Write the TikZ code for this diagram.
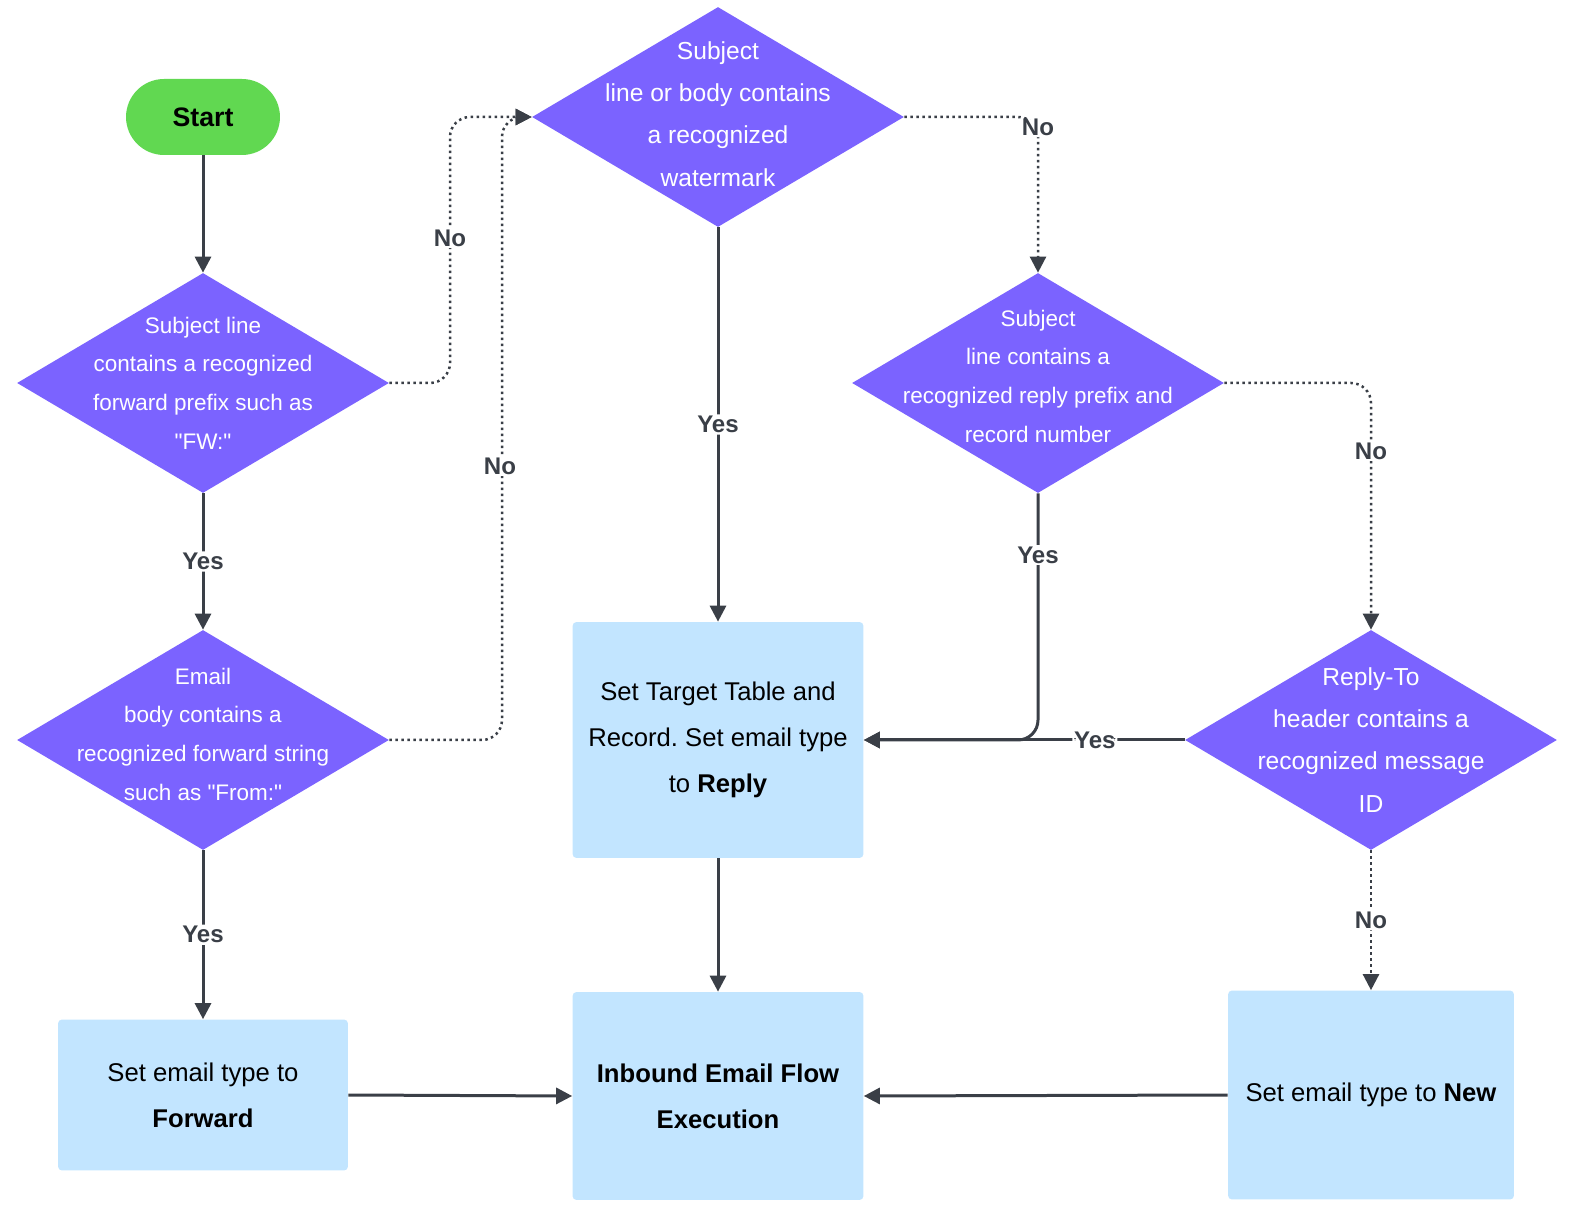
\documentclass[tikz,border=0pt]{standalone}
\usepackage{fontspec}
\setmainfont{Liberation Sans}
\frenchspacing
\usetikzlibrary{arrows.meta,shapes.geometric,positioning}
\definecolor{FlowPurple}{HTML}{7B63FF}
\definecolor{FlowBlue}{HTML}{C2E5FF}
\definecolor{FlowGreen}{HTML}{61D851}
\definecolor{FlowInk}{HTML}{3A3F47}

\begin{document}
\begin{tikzpicture}[
    x=0.02cm, y=-0.02cm,
    decision/.style={
      diamond,
      fill=FlowPurple,
      minimum width=7.44cm,
      minimum height=4.4cm,
      inner sep=0pt
    },
    dtext/.style={
      text=white,
      align=center,
      font=\fontsize{12.8}{22}\selectfont
    },
    dtextbig/.style={
      text=white,
      align=center,
      font=\fontsize{14}{24}\selectfont
    },
    process/.style={
      rectangle,
      fill=FlowBlue,
      rounded corners=0.08cm,
      align=center,
      font=\fontsize{14.6}{26}\selectfont
    },
    terminal/.style={
      rectangle,
      fill=FlowGreen,
      rounded corners=0.76cm,
      minimum width=3.08cm,
      minimum height=1.52cm,
      font=\fontsize{15.2}{18}\selectfont\bfseries
    },
    lbl/.style={
      fill=white,
      text=FlowInk,
      inner sep=1pt,
      font=\fontsize{13.7}{16}\selectfont\bfseries
    },
    flow/.style={
      -{Triangle[length=0.32cm,width=0.32cm]},
      line width=0.06cm,
      draw=FlowInk,
      rounded corners=0.4cm
    },
    noflow/.style={
      flow,
      line width=0.05cm,
      dash pattern=on 0.05cm off 0.07cm
    }
  ]

  \useasboundingbox (0,0) rectangle (1576,1222);

  % nodes
  \node[terminal] (start) at (203,117) {Start};

  \node[decision, label={[dtext]center:{Subject line\\contains a recognized\\forward prefix such as\\\textquotedbl FW:\textquotedbl}}] (fwdprefix) at (203,383) {};
  \node[decision, label={[dtext, yshift=0.12cm]center:{Email\\body contains a\\recognized forward string\\such as \textquotedbl From:\textquotedbl}}] (fwdstring) at (203,740) {};
  \node[decision, label={[dtextbig, yshift=0.06cm]center:{Subject\\line or body contains\\a recognized\\watermark}}] (watermark) at (718,117) {};
  \node[decision, label={[dtext, yshift=0.14cm]center:{Subject\\line contains a\\recognized reply prefix and\\record number}}] (replyprefix) at (1038,383) {};
  \node[decision, label={[dtextbig]center:{Reply-To\\header contains a\\recognized message\\ID}}] (replyto) at (1371,740) {};

  \node[process, minimum width=5.82cm, minimum height=4.72cm] (reply) at (718,740)
    {Set Target Table and\\Record. Set email type\\to \textbf{Reply}};
  \node[process, minimum width=5.82cm, minimum height=4.16cm] (inbound) at (718,1096)
    {\textbf{Inbound Email Flow}\\\textbf{Execution}};
  \node[process, minimum width=5.8cm, minimum height=3.02cm] (forward) at (203,1095)
    {Set email type to\\\textbf{Forward}};
  \node[process, minimum width=5.72cm, minimum height=4.18cm] (new) at (1371,1095)
    {Set email type to \textbf{New}};

  \coordinate (bendA) at (450,117);
  \coordinate (bendB) at (502,117);

  % connectors
  \draw[flow] (start) -- (fwdprefix);
  \draw[flow] (fwdprefix) -- node[lbl] {Yes} (fwdstring);
  \draw[flow] (fwdstring) -- node[lbl] {Yes} (forward);
  \draw[noflow] (fwdprefix.east) -| (bendA) -- (watermark.west);
  \draw[noflow] (fwdstring.east) -| (bendB) -- (watermark.west);
  \node[lbl] (noA) at (450,238) {No};
  \node[lbl] (noB) at (500,466) {No};

  \draw[flow] (watermark) -- node[lbl] {Yes} (reply);
  \draw[noflow] (watermark.east) -| node[lbl, pos=0.5, yshift=-0.2cm] {No} (replyprefix.north);
  \draw[noflow] (replyprefix.east) -| (replyto.north);
  \node[lbl] (noC) at (1371,451) {No};
  \draw[flow] (replyprefix.south) |- (reply.east);
  \node[lbl] (yesC) at (1038,555) {Yes};
  \draw[flow] (replyto.west) -- node[lbl, pos=0.28] {Yes} (reply.east);
  \draw[noflow] (replyto.south) -- node[lbl] {No} (new.north);

  \draw[flow] (reply) -- (inbound);
  \draw[flow] (forward.east) -- (inbound.west);
  \draw[flow] (new.west) -- (inbound.east);

\end{tikzpicture}
\end{document}
